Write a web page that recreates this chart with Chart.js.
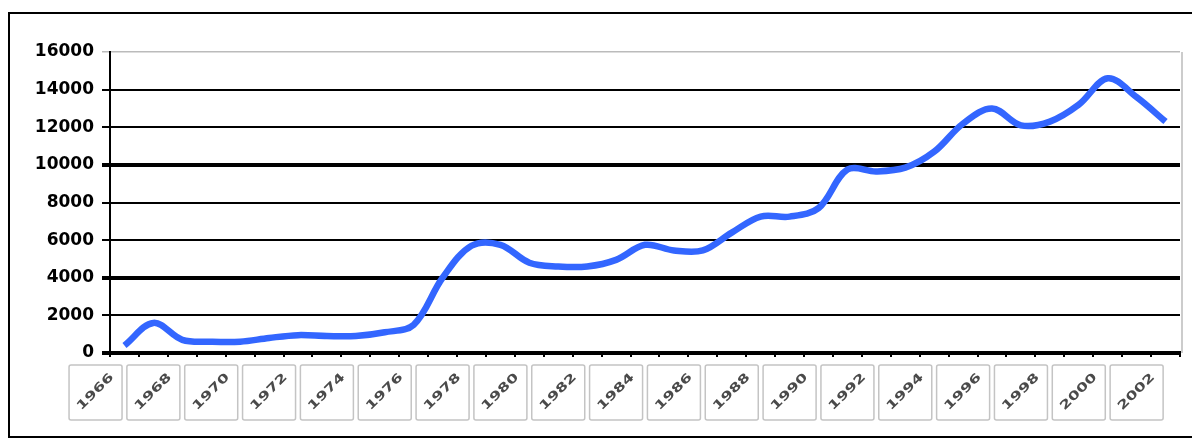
<!DOCTYPE html>
<html>
<head>
<meta charset="utf-8">
<script src="https://cdn.jsdelivr.net/npm/chart.js@4/dist/chart.umd.min.js"></script>
<style>
  html, body { margin: 0; padding: 0; background: #fff; }
  #wrap { width: 1192px; height: 439px; }
</style>
</head>
<body>
<div id="wrap"><canvas id="grafico"></canvas></div>
<script>
// categorias (años) y valores
var years = ['1966', '1967', '1968', '1969', '1970', '1971', '1972', '1973', '1974', '1975',
    '1976', '1977', '1978', '1979', '1980', '1981', '1982', '1983', '1984', '1985',
    '1986', '1987', '1988', '1989', '1990', '1991', '1992', '1993', '1994', '1995',
    '1996', '1997', '1998', '1999', '2000', '2001', '2002'];
var values = [400, 1600, 700, 600, 600, 800, 950, 900, 900, 1100,
    1500, 4000, 5700, 5750, 4800, 4600, 4600, 4950, 5750, 5450,
    5450, 6400, 7250, 7250, 7700, 9750, 9650, 9850, 10700, 12200,
    13000, 12100, 12300, 13200, 14600, 13600, 12300];
// etiquetas del eje x (cada dos años)
var xLabels = ['1966', '1968', '1970', '1972', '1974', '1976', '1978', '1980', '1982', '1984',
    '1986', '1988', '1990', '1992', '1994', '1996', '1998', '2000', '2002'];
var yMin = 0, yMax = 16000, yStep = 2000;

// marco exterior y cajas de etiquetas
var marcoPlugin = {
    id: 'marco',
    beforeDraw: function (chart) {
        var ctx = chart.ctx;
        ctx.save();
        ctx.fillStyle = '#fff';
        ctx.fillRect(0, 0, chart.width, chart.height);
        ctx.strokeStyle = '#000';
        ctx.lineWidth = 2;
        ctx.strokeRect(9, 13, 1200, 424);
        ctx.restore();
    },
    afterDraw: function (chart) {
        var ctx = chart.ctx;
        var x = chart.scales.x;
        var area = chart.chartArea;
        var paso = x.getPixelForValue(1) - x.getPixelForValue(0);
        ctx.save();
        // borde derecho del area
        ctx.strokeStyle = '#bbb';
        ctx.lineWidth = 1.5;
        ctx.beginPath();
        ctx.moveTo(area.right + 2, area.top);
        ctx.lineTo(area.right + 2, area.bottom);
        ctx.stroke();

        years.forEach(function (y, i) {
            if (xLabels.indexOf(y) < 0) return;
            var cx = x.getPixelForValue(i) - paso;
            ctx.strokeStyle = '#c4c4c4';
            ctx.lineWidth = 1.5;
            ctx.beginPath();
            if (ctx.roundRect) ctx.roundRect(cx - 26.5, 365, 53, 55, 2);
            else ctx.rect(cx - 26.5, 365, 53, 55);
            ctx.stroke();

            ctx.save();
            ctx.translate(cx, 392);
            ctx.rotate(-Math.PI / 4);
            ctx.scale(1.4, 1);
            ctx.fillStyle = '#4a4a4a';
            ctx.font = 'bold 12px "DejaVu Sans"';
            ctx.textAlign = 'center';
            ctx.textBaseline = 'middle';
            ctx.fillText(y, 0, 0);
            ctx.restore();
        });
        ctx.restore();
    }
};

function pintarGrafico(destino) {
    var miCanvas = document.getElementById(destino).getContext('2d');

    var datos = {
        labels: years,
        datasets: [{
            label: 'Serie',
            data: values,
            borderColor: '#3366ff',
            borderWidth: 6.5,
            pointRadius: 0,
            fill: false,
            tension: 0.35
        }]
    };

    var opciones = {
        responsive: true,
        maintainAspectRatio: false,
        animation: false,
        layout: { padding: { top: 52, right: 12, left: 0, bottom: 0 } },
        plugins: {
            legend: { display: false },
            tooltip: { enabled: false },
            title: { display: false }
        },
        scales: {
            x: {
                offset: true,
                afterFit: function (scale) { scale.height = 86; },
                border: { color: '#000', width: 4 },
                grid: {
                    offset: true,
                    drawOnChartArea: false,
                    drawTicks: true,
                    tickLength: 4,
                    color: '#000',
                    lineWidth: 2
                },
                ticks: { display: false, autoSkip: false }
            },
            y: {
                min: yMin,
                max: yMax,
                afterFit: function (scale) { scale.width = 110; },
                border: { color: '#000', width: 2 },
                grid: {
                    tickLength: 8,
                    color: function (c) { return c.tick && c.tick.value === yMax ? '#bbb' : '#000'; },
                    lineWidth: function (c) {
                        if (!c.tick) return 2;
                        var v = c.tick.value;
                        if (v === yMax) return 1.5;
                        if (v === 10000 || v === 4000 || v === 0) return 4;
                        return 2;
                    }
                },
                ticks: {
                    stepSize: yStep,
                    color: '#000',
                    padding: 8,
                    font: { family: '"DejaVu Sans"', size: 17, weight: 'bold' },
                    callback: function (v) { return String(v); }
                }
            }
        }
    };

    var miGrafico = new Chart(miCanvas, {
        type: 'line',
        data: datos,
        options: opciones,
        plugins: [marcoPlugin]
    });
    return miGrafico;
}

pintarGrafico('grafico');
</script>
</body>
</html>
